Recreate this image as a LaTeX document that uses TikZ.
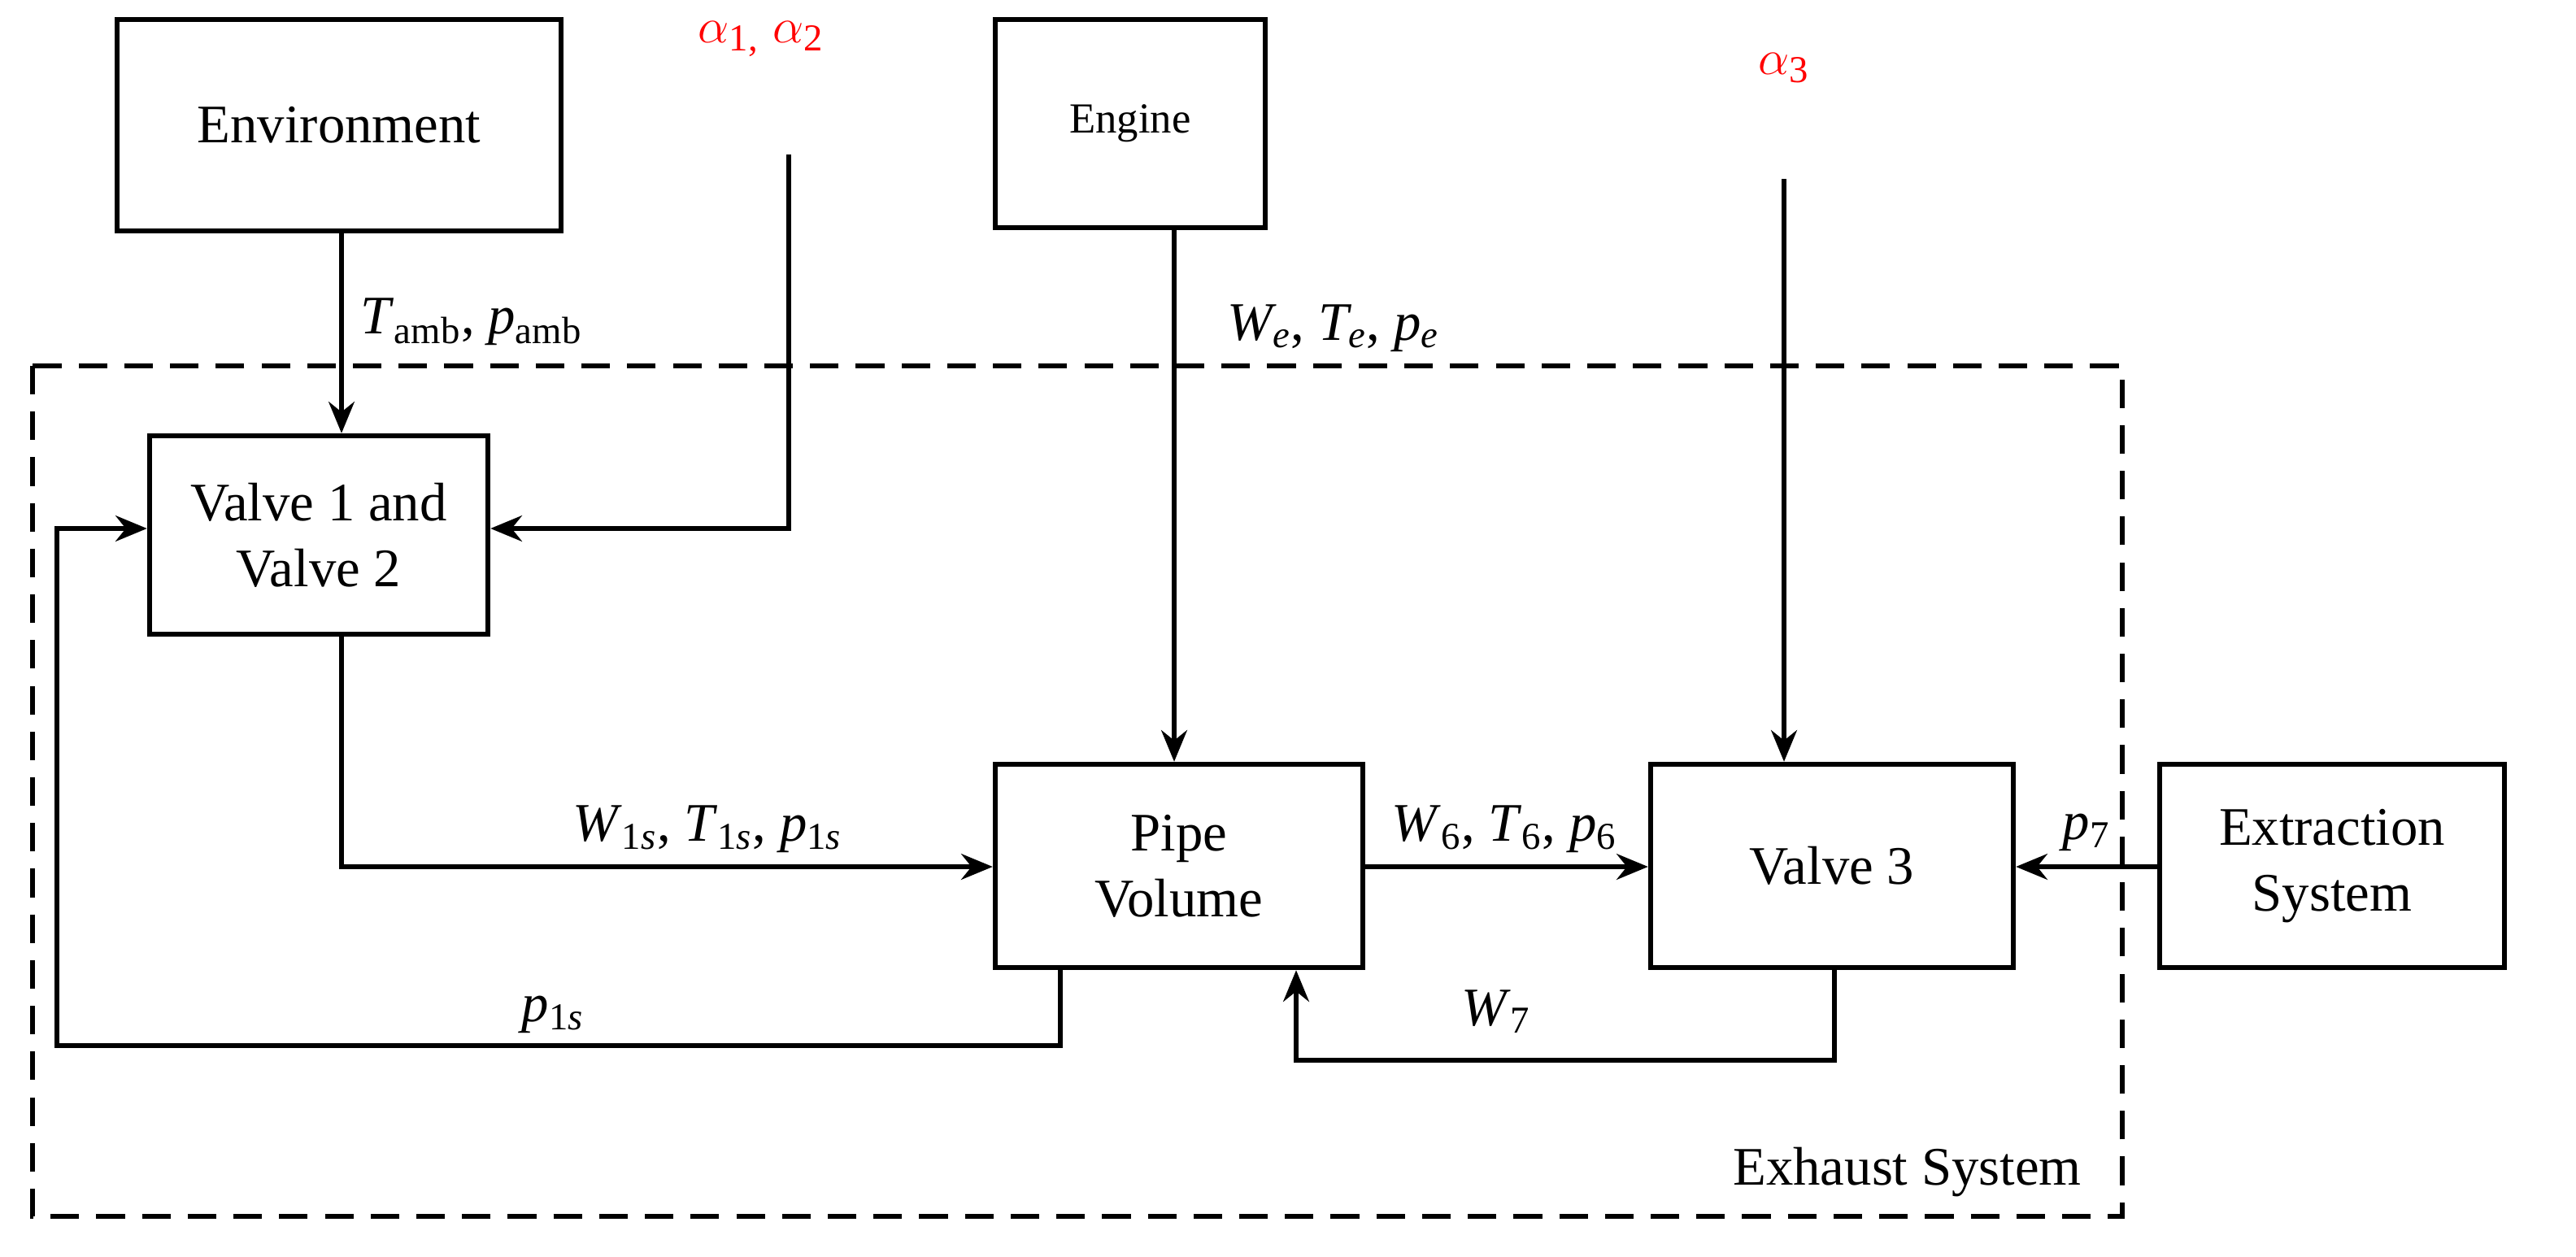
\documentclass[tikz,border=0pt]{standalone}
\usepackage{fontspec}
\setmainfont{Liberation Serif}
\usetikzlibrary{arrows.meta}
\begin{document}
\begin{tikzpicture}[x=0.02cm,y=-0.02cm,
 box/.style={draw,line width=1.8pt,minimum width=0pt,inner sep=0pt,align=center,font=\fontsize{19}{23}\selectfont},
 ln/.style={line width=1.8pt},
 ar/.style={line width=1.8pt,-{Stealth[length=11pt,width=9pt]}},
 lab/.style={font=\fontsize{19}{23}\selectfont,inner sep=1pt},
 red/.style={text=red,font=\fontsize{19}{23}\selectfont}]
\useasboundingbox (0,0) rectangle (1584,772.5);
\node[box,minimum width=273*0.02cm,minimum height=130*0.02cm] (env) at (208.5,77) {Environment};
\node[box,minimum width=166*0.02cm,minimum height=128*0.02cm,font=\fontsize{15}{18}\selectfont] (eng) at (695,76) {Engine};
\node[box,minimum width=208*0.02cm,minimum height=122*0.02cm] (v12) at (196,329) {Valve 1 and\\Valve 2};
\node[box,minimum width=226*0.02cm,minimum height=125*0.02cm] (pipe) at (725,532.5) {Pipe\\Volume};
\node[box,minimum width=223*0.02cm,minimum height=125*0.02cm] (v3) at (1126.5,532.5) {Valve 3};
\node[box,minimum width=212*0.02cm,minimum height=125*0.02cm] (ext) at (1434,532.5) {Extraction\\System};
\draw[line width=1.8pt,dash pattern=on 10pt off 6pt] (20,225) rectangle (1305,748);
\node[lab,anchor=south east] (exh) at (1282,738) {Exhaust System};
\node[red] (a12) at (468,24) {$\alpha$\textsubscript{1,} $\alpha$\textsubscript{2}};
\coordinate (a12s) at (485,95);
\node[red] (a3) at (1097,42) {$\alpha$\textsubscript{3}};
\coordinate (a3s) at (1097,110);
\draw[ar] (env.south -| 210,0) -- (v12.north -| 210,0);
\node[lab] (tamb) at (290,198) {\textit{T}\textsubscript{amb}, \textit{p}\textsubscript{amb}};
\draw[ar] (a12s) |- (v12.east |- 0,325);
\draw[ar] (eng.south -| 722,0) -- (pipe.north -| 722,0);
\node[lab] (we) at (820,202) {\textit{W\textsubscript{e}}, \textit{T\textsubscript{e}}, \textit{p\textsubscript{e}}};
\draw[ar] (a3s) -- (v3.north -| 1097,0);
\draw[ar] (v12.south -| 210,0) |- (pipe.west |- 0,533);
\node[lab] (w1) at (435,510) {\textit{W}\textsubscript{1\textit{s}}, \textit{T}\textsubscript{1\textit{s}}, \textit{p}\textsubscript{1\textit{s}}};
\draw[ar] (pipe.east |- 0,533) -- (v3.west |- 0,533);
\node[lab] (w6) at (925,510) {\textit{W}\textsubscript{6}, \textit{T}\textsubscript{6}, \textit{p}\textsubscript{6}};
\draw[ar] (ext.west |- 0,533) -- (v3.east |- 0,533);
\node[lab] (p7) at (1283,512) {\textit{p}\textsubscript{7}};
\draw[ar] (pipe.south -| 652,0) -- (652,643) -- (35,643) -- (35,325) -- (v12.west |- 0,325);
\node[lab] (p1) at (340,624) {\textit{p}\textsubscript{1\textit{s}}};
\draw[ar] (v3.south -| 1128,0) -- (1128,652) -- (797,652) -- (pipe.south -| 797,0);
\node[lab] (w7) at (920,622) {\textit{W}\textsubscript{7}};
\end{tikzpicture}
\end{document}
